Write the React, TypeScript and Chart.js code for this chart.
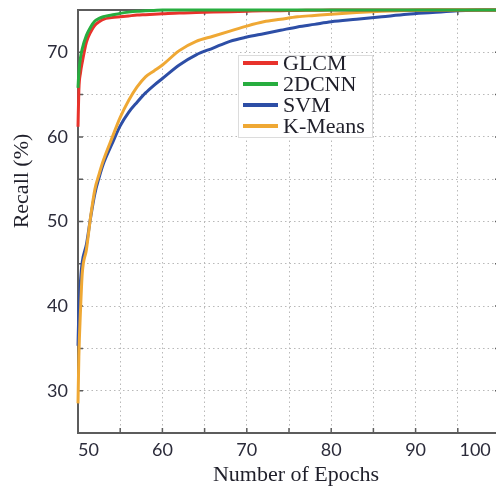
import React, { useEffect, useRef } from 'react';
import { Chart, registerables } from 'chart.js';

Chart.register(...registerables);

// ---- data ----
const epochs = [50, 50.1, 50.3, 50.5, 51, 51.5, 52, 52.5, 53, 54, 55, 56, 57, 58, 59, 60, 62, 64, 66, 68, 70, 72, 74, 76, 78, 80, 83, 86, 89, 92, 95, 98, 100];

const glcm = [61.2, 65.5, 67.6, 68.8, 71.2, 72.4, 73.2, 73.6, 73.9, 74.1, 74.2, 74.3, 74.4, 74.45, 74.5, 74.55, 74.65, 74.7, 74.75, 74.8, 74.85, 74.9, 74.92, 74.95, 74.97, 75, 75, 75, 75, 75, 75, 75, 75];
const cnn2d = [65.8, 67.6, 69.4, 70.4, 72.0, 73.0, 73.7, 74.0, 74.2, 74.4, 74.6, 74.75, 74.85, 74.9, 74.95, 75, 75, 75, 75, 75, 75, 75, 75, 75, 75, 75, 75, 75, 75, 75, 75, 75, 75];
const svm = [35.3, 39.5, 43.0, 45.2, 47.3, 50.5, 53.3, 55.2, 56.8, 59.1, 61.3, 62.9, 64.1, 65.2, 66.1, 66.9, 68.5, 69.7, 70.5, 71.3, 71.8, 72.2, 72.6, 73.0, 73.3, 73.6, 73.9, 74.2, 74.5, 74.7, 74.9, 75, 75];
const kmeans = [28.5, 34.0, 39.6, 43.8, 46.7, 50.6, 53.8, 55.6, 57.2, 59.8, 62.3, 64.3, 65.9, 67.1, 67.8, 68.5, 70.2, 71.3, 71.9, 72.5, 73.1, 73.6, 73.9, 74.2, 74.35, 74.5, 74.7, 74.85, 74.95, 75, 75, 75, 75];

const seriesNames = ['GLCM', '2DCNN', 'SVM', 'K-Means'];
const seriesColors = ['#e8322b', '#27ad3f', '#2d4ea6', '#efa834'];
const seriesOrder = [1, 0, 3, 2];

const xMin = 50;
const xMax = 100;
const xStep = 5;
const xLabelEvery = 10;
const yMin = 25;
const yMax = 75;
const yStep = 5;
const yLabelEvery = 10;

const xTitle = 'Number of Epochs';
const yTitle = 'Recall (%)';

const TEXT = '#1f1f2a';
const SERIF = '"Liberation Serif", "Times New Roman", serif';

export default function App() {
  const ref = useRef<HTMLCanvasElement>(null);

  useEffect(() => {
    if (!ref.current) return;
    const allSeries = [glcm, cnn2d, svm, kmeans];

    const framePlugin = {
      id: 'frame',
      beforeDatasetsDraw(chart: any) {
        const { ctx, chartArea: a, scales } = chart;
        ctx.save();
        ctx.strokeStyle = '#5c5c5c';
        ctx.lineWidth = 2;
        ctx.strokeRect(a.left, a.top, a.right - a.left, a.bottom - a.top);
        ctx.lineWidth = 1.5;
        ctx.beginPath();
        scales.x.ticks.forEach((t: any) => {
          const px = scales.x.getPixelForValue(t.value);
          ctx.moveTo(px, a.bottom);
          ctx.lineTo(px, a.bottom - 5);
          ctx.moveTo(px, a.top);
          ctx.lineTo(px, a.top + 5);
        });
        scales.y.ticks.forEach((t: any) => {
          const py = scales.y.getPixelForValue(t.value);
          ctx.moveTo(a.left, py);
          ctx.lineTo(a.left + 5, py);
          ctx.moveTo(a.right, py);
          ctx.lineTo(a.right - 5, py);
        });
        ctx.stroke();
        ctx.restore();
      },
    };

    const decorPlugin = {
      id: 'decor',
      afterDraw(chart: any) {
        const { ctx } = chart;
        ctx.save();
        // axis titles
        ctx.fillStyle = TEXT;
        ctx.font = `22px ${SERIF}`;
        ctx.textAlign = 'center';
        ctx.textBaseline = 'middle';
        ctx.fillText(xTitle, 296, 475);
        ctx.save();
        ctx.translate(22, 181);
        ctx.rotate(-Math.PI / 2);
        ctx.fillText(yTitle, 0, 0);
        ctx.restore();

        // legend
        const bx = 238, by = 55, bw = 134, bh = 82;
        ctx.fillStyle = '#ffffff';
        ctx.fillRect(bx, by, bw, bh);
        ctx.strokeStyle = '#dcdcdc';
        ctx.lineWidth = 1;
        ctx.strokeRect(bx + 0.5, by + 0.5, bw, bh);
        chart.data.datasets.forEach((ds: any, i: number) => {
          const y = 63 + i * 21;
          ctx.strokeStyle = ds.borderColor;
          ctx.lineWidth = 4;
          ctx.beginPath();
          ctx.moveTo(243, y);
          ctx.lineTo(278, y);
          ctx.stroke();
          ctx.fillStyle = TEXT;
          ctx.font = `22px ${SERIF}`;
          ctx.textAlign = 'left';
          ctx.textBaseline = 'middle';
          ctx.fillText(ds.label, 283, y + 1);
        });
        ctx.restore();
      },
    };

    const tickFont = { family: 'Lato, "Liberation Sans", sans-serif', size: 18 };

    const chart = new Chart(ref.current, {
      type: 'line',
      data: {
        datasets: seriesNames.map((name, i) => ({
          label: name,
          data: epochs.map((x, j) => ({ x, y: allSeries[i][j] })),
          borderColor: seriesColors[i],
          backgroundColor: seriesColors[i],
          borderWidth: 3,
          pointRadius: 0,
          cubicInterpolationMode: 'monotone' as const,
          order: seriesOrder[i],
          clip: 4,
        })),
      },
      options: {
        responsive: false,
        animation: false,
        layout: { padding: { top: 10, left: 0, right: 0, bottom: 0 } },
        plugins: { legend: { display: false }, tooltip: { enabled: false } },
        scales: {
          x: {
            type: 'linear',
            min: xMin,
            max: xMax,
            afterFit: (s: any) => {
              s.height = 57;
              s.paddingLeft = 0;
              s.paddingRight = 0;
              s.paddingTop = 0;
              s.paddingBottom = 0;
            },
            grid: { color: '#b9b9b9', lineWidth: 1, drawTicks: false },
            border: { display: false, dash: [1.5, 3] },
            ticks: {
              stepSize: xStep,
              autoSkip: false,
              maxRotation: 0,
              align: 'inner',
              padding: 6,
              color: '#2b2b3a',
              font: tickFont,
              callback: (v: any) => {
                const n = Number(v);
                if (n % xLabelEvery !== 0) return '';
                return n === xMax ? `${n}  ` : String(n);
              },
            },
          },
          y: {
            type: 'linear',
            min: yMin,
            max: yMax,
            afterFit: (s: any) => {
              s.width = 78;
              s.paddingTop = 0;
              s.paddingBottom = 0;
              s.paddingLeft = 0;
              s.paddingRight = 0;
            },
            grid: { color: '#b9b9b9', lineWidth: 1, drawTicks: false },
            border: { display: false, dash: [1.5, 3] },
            ticks: {
              stepSize: yStep,
              autoSkip: false,
              padding: 10,
              color: '#2b2b3a',
              font: tickFont,
              callback: (v: any) => {
                const n = Number(v);
                if (n === yMin || n === yMax) return null;
                return n % yLabelEvery === 0 ? String(n) : '';
              },
            },
          },
        },
      } as any,
      plugins: [framePlugin, decorPlugin],
    });
    return () => chart.destroy();
  }, []);

  return (
    <div style={{ position: 'fixed', left: 0, top: 0, width: 496, height: 490, overflow: 'hidden', background: '#fff' }}>
      <canvas ref={ref} width={500} height={490} style={{ display: 'block' }} />
    </div>
  );
}
